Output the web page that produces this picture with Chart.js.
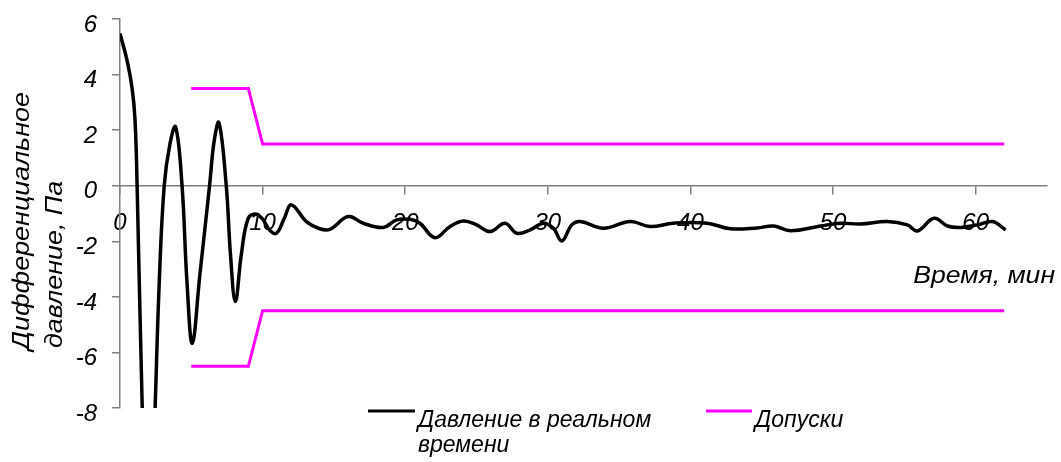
<!DOCTYPE html>
<html>
<head>
<meta charset="utf-8">
<script src="https://cdn.jsdelivr.net/npm/chart.js@4/dist/chart.umd.min.js"></script>
<style>
  html, body { margin: 0; padding: 0; background: #fff; }
  #wrap { width: 1061px; height: 462px; }
</style>
</head>
<body>
<div id="wrap"><canvas id="c" width="1061" height="462"></canvas></div>
<script>
// Measured differential pressure (Pa) against elapsed time (min)
const timeMin = [0, 0.5, 0.85, 1.05, 1.2, 1.55, 2.0, 2.45, 2.75, 3.1, 3.5, 3.9, 4.35, 4.7, 5.07, 5.6, 6.28, 6.6, 6.94, 7.45, 7.75, 8.09, 8.5, 8.97, 9.5, 10.0, 10.5, 10.97, 11.5, 12.02, 13.07, 14.0, 14.71, 16.0, 17.05, 18.46, 19.4, 20.33, 21.03, 22.08, 23.14, 24.07, 25.01, 25.95, 27.0, 27.82, 28.76, 29.69, 30.39, 30.98, 31.68, 32.27, 33.9, 35.78, 37.18, 38.8, 41.17, 42.8, 44.68, 45.84, 47.01, 49.12, 50.52, 51.93, 53.8, 55.21, 55.91, 57.08, 58.02, 58.95, 60.12, 61.18, 62.1];
const pressure = [5.48, 4.5, 3.5, 2.4, 0, -7.8, -15, -8.2, -3.5, 0, 1.5, 2.12, 0, -3.5, -5.67, -3.2, 0, 1.6, 2.27, 0, -2.5, -4.17, -2.5, -1.2, -1.02, -1.2, -1.6, -1.71, -1.2, -0.69, -1.29, -1.55, -1.57, -1.11, -1.35, -1.5, -1.23, -1.21, -1.35, -1.87, -1.47, -1.27, -1.41, -1.65, -1.35, -1.71, -1.59, -1.35, -1.53, -1.99, -1.41, -1.29, -1.53, -1.29, -1.47, -1.35, -1.35, -1.55, -1.52, -1.45, -1.62, -1.45, -1.35, -1.38, -1.29, -1.41, -1.63, -1.17, -1.45, -1.5, -1.41, -1.29, -1.59];

// Tolerance band (upper and lower limits)
const tolTime = [5, 9, 10, 62];
const tolUpper = [3.5, 3.5, 1.5, 1.5];
const tolLower = [-6.5, -6.5, -4.5, -4.5];

// Axis ticks and texts
const xTicks = [0, 10, 20, 30, 40, 50, 60];
const yTicks = [-8, -6, -4, -2, 0, 2, 4, 6];
const seriesNames = ['Давление в реальном времени', 'Допуски'];
const legendLines = [['Давление в реальном', 'времени'], ['Допуски']];
const yTitleLines = ['Дифференциальное', 'давление, Па'];
const xTitle = 'Время, мин';

const FONT_FAMILY = '"Liberation Sans", Arial, sans-serif';
const AXIS_GREY = '#808080';
const LIMIT_COLOR = '#FF00FF';

const toPoints = (xs, ys) => xs.map((x, i) => ({ x: x, y: ys[i] }));

// Axis titles and the two-column legend drawn on the canvas
const annotations = {
  id: 'annotations',
  afterDraw(chart) {
    const ctx = chart.ctx;
    ctx.save();
    ctx.fillStyle = '#000';
    ctx.font = 'italic 23px ' + FONT_FAMILY;
    ctx.textBaseline = 'alphabetic';
    ctx.textAlign = 'left';

    // vertical axis title, two lines reading upward, slightly widened
    [[yTitleLines[0], 28.5, 350], [yTitleLines[1], 61.5, 348]].forEach(([t, x, y]) => {
      ctx.save();
      ctx.translate(x, y);
      ctx.rotate(-Math.PI / 2);
      ctx.scale(1.17, 1);
      ctx.fillText(t, 0, 0);
      ctx.restore();
    });

    // horizontal axis title, right-aligned and slightly widened
    ctx.save();
    ctx.translate(1055, 283);
    ctx.scale(1.155, 1);
    ctx.textAlign = 'right';
    ctx.fillText(xTitle, 0, 0);
    ctx.restore();

    // legend
    const items = [
      { ds: chart.data.datasets[0], lines: legendLines[0], x0: 368, x1: 415 },
      { ds: chart.data.datasets[1], lines: legendLines[1], x0: 706, x1: 752 }
    ];
    items.forEach(it => {
      ctx.beginPath();
      ctx.strokeStyle = it.ds.borderColor;
      ctx.lineWidth = 3;
      ctx.moveTo(it.x0, 411);
      ctx.lineTo(it.x1, 411);
      ctx.stroke();
      it.lines.forEach((t, i) => ctx.fillText(t, it.x1 + 3, 427 + i * 25));
    });
    ctx.restore();
  }
};

new Chart(document.getElementById('c'), {
  type: 'line',
  data: {
    datasets: [
      {
        label: seriesNames[0],
        data: toPoints(timeMin, pressure),
        borderColor: '#000000',
        borderWidth: 3.5,
        pointRadius: 0,
        tension: 0.4,
        fill: false
      },
      {
        label: seriesNames[1],
        data: toPoints(tolTime, tolUpper),
        borderColor: LIMIT_COLOR,
        borderWidth: 3,
        pointRadius: 0,
        tension: 0,
        fill: false
      },
      {
        label: seriesNames[1],
        data: toPoints(tolTime, tolLower),
        borderColor: LIMIT_COLOR,
        borderWidth: 3,
        pointRadius: 0,
        tension: 0,
        fill: false
      }
    ]
  },
  options: {
    responsive: false,
    animation: false,
    layout: { padding: { top: 19, bottom: 54, left: 0, right: 14 } },
    plugins: {
      legend: { display: false },
      tooltip: { enabled: false }
    },
    scales: {
      x: {
        type: 'linear',
        min: 0,
        max: 65,
        position: { y: 0 },
        afterBuildTicks: s => { s.ticks = xTicks.map(v => ({ value: v })); },
        afterFit: s => { s.paddingLeft = 0; s.paddingRight = 0; },
        grid: { drawOnChartArea: false, drawTicks: true, tickLength: 8, color: AXIS_GREY, lineWidth: 1.5 },
        border: { color: AXIS_GREY, width: 1.5 },
        ticks: {
          color: '#000',
          padding: 15,
          maxRotation: 0,
          autoSkip: false,
          font: { family: FONT_FAMILY, size: 24, style: 'italic' }
        }
      },
      y: {
        type: 'linear',
        min: -8,
        max: 6,
        afterBuildTicks: s => { s.ticks = yTicks.map(v => ({ value: v })); },
        afterFit: s => { s.width = 120; s.paddingTop = 0; s.paddingBottom = 0; },
        grid: { drawOnChartArea: false, drawTicks: true, tickLength: 8, color: AXIS_GREY, lineWidth: 1.5 },
        border: { color: AXIS_GREY, width: 1.5 },
        ticks: {
          color: '#000',
          padding: 15,
          labelOffset: 6,
          font: { family: FONT_FAMILY, size: 24, style: 'italic' }
        }
      }
    }
  },
  plugins: [annotations]
});
</script>
</body>
</html>
